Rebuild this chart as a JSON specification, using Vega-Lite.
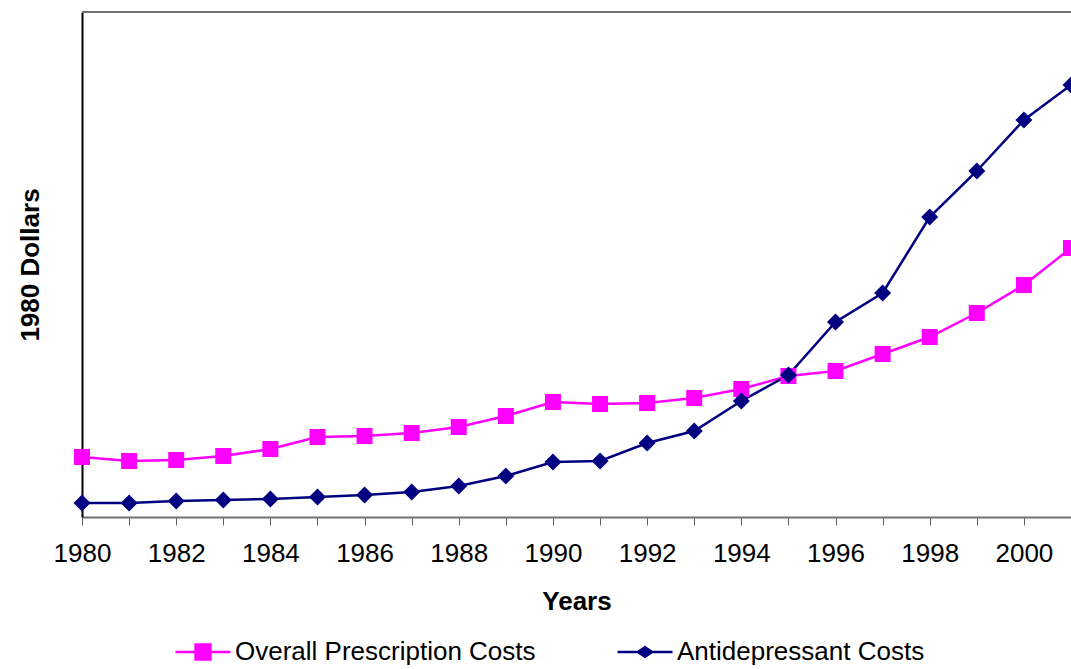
{
  "$schema": "https://vega.github.io/schema/vega-lite/v6.json",
  "width": 989,
  "height": 505,
  "autosize": "none",
  "padding": {"left": 82, "top": 12, "right": 0, "bottom": 152},
  "background": "white",
  "config": {
    "view": {"stroke": null},
    "font": "Liberation Sans"
  },
  "data": {
    "values": [
      {"year": 1980, "series": "Overall Prescription Costs", "value": 60},
      {"year": 1981, "series": "Overall Prescription Costs", "value": 56},
      {"year": 1982, "series": "Overall Prescription Costs", "value": 57},
      {"year": 1983, "series": "Overall Prescription Costs", "value": 61},
      {"year": 1984, "series": "Overall Prescription Costs", "value": 68},
      {"year": 1985, "series": "Overall Prescription Costs", "value": 80},
      {"year": 1986, "series": "Overall Prescription Costs", "value": 81},
      {"year": 1987, "series": "Overall Prescription Costs", "value": 84},
      {"year": 1988, "series": "Overall Prescription Costs", "value": 90},
      {"year": 1989, "series": "Overall Prescription Costs", "value": 101},
      {"year": 1990, "series": "Overall Prescription Costs", "value": 115},
      {"year": 1991, "series": "Overall Prescription Costs", "value": 113},
      {"year": 1992, "series": "Overall Prescription Costs", "value": 114},
      {"year": 1993, "series": "Overall Prescription Costs", "value": 119},
      {"year": 1994, "series": "Overall Prescription Costs", "value": 128},
      {"year": 1995, "series": "Overall Prescription Costs", "value": 141},
      {"year": 1996, "series": "Overall Prescription Costs", "value": 146},
      {"year": 1997, "series": "Overall Prescription Costs", "value": 163},
      {"year": 1998, "series": "Overall Prescription Costs", "value": 180},
      {"year": 1999, "series": "Overall Prescription Costs", "value": 204},
      {"year": 2000, "series": "Overall Prescription Costs", "value": 232},
      {"year": 2001, "series": "Overall Prescription Costs", "value": 269},
      {"year": 1980, "series": "Antidepressant Costs", "value": 14},
      {"year": 1981, "series": "Antidepressant Costs", "value": 14},
      {"year": 1982, "series": "Antidepressant Costs", "value": 16},
      {"year": 1983, "series": "Antidepressant Costs", "value": 17},
      {"year": 1984, "series": "Antidepressant Costs", "value": 18},
      {"year": 1985, "series": "Antidepressant Costs", "value": 20},
      {"year": 1986, "series": "Antidepressant Costs", "value": 22},
      {"year": 1987, "series": "Antidepressant Costs", "value": 25},
      {"year": 1988, "series": "Antidepressant Costs", "value": 31},
      {"year": 1989, "series": "Antidepressant Costs", "value": 41},
      {"year": 1990, "series": "Antidepressant Costs", "value": 55},
      {"year": 1991, "series": "Antidepressant Costs", "value": 56},
      {"year": 1992, "series": "Antidepressant Costs", "value": 74},
      {"year": 1993, "series": "Antidepressant Costs", "value": 86},
      {"year": 1994, "series": "Antidepressant Costs", "value": 116},
      {"year": 1995, "series": "Antidepressant Costs", "value": 142},
      {"year": 1996, "series": "Antidepressant Costs", "value": 195},
      {"year": 1997, "series": "Antidepressant Costs", "value": 224},
      {"year": 1998, "series": "Antidepressant Costs", "value": 300},
      {"year": 1999, "series": "Antidepressant Costs", "value": 346},
      {"year": 2000, "series": "Antidepressant Costs", "value": 397},
      {"year": 2001, "series": "Antidepressant Costs", "value": 432}
    ]
  },
  "encoding": {
    "x": {
      "field": "year",
      "type": "quantitative",
      "scale": {"domain": [1980, 2001], "nice": false, "zero": false},
      "axis": {
        "title": "Years",
        "titleFont": "Liberation Sans",
        "titleFontSize": 26,
        "titleFontWeight": "bold",
        "titleColor": "black",
        "titlePadding": 22,
        "values": [1980,1981,1982,1983,1984,1985,1986,1987,1988,1989,1990,1991,1992,1993,1994,1995,1996,1997,1998,1999,2000,2001],
        "labelExpr": "datum.value % 2 == 0 ? format(datum.value, 'd') : ''",
        "labelFont": "Liberation Sans",
        "labelFontSize": 26,
        "labelColor": "black",
        "labelPadding": 15,
        "labelOverlap": false,
        "labelFlush": false,
        "tickSize": 8,
        "tickColor": "#606060",
        "tickWidth": 1,
        "domainColor": "#707070",
        "domainWidth": 2,
        "grid": false
      }
    },
    "y": {
      "field": "value",
      "type": "quantitative",
      "scale": {"domain": [0, 505], "nice": false},
      "axis": {
        "title": "1980 Dollars",
        "titleFont": "Liberation Sans",
        "titleFontSize": 26,
        "titleFontWeight": "bold",
        "titleColor": "black",
        "titlePadding": 39,
        "labels": false,
        "ticks": false,
        "domainColor": "black",
        "domainWidth": 2,
        "grid": false
      }
    },
    "color": {
      "field": "series",
      "type": "nominal",
      "sort": ["Overall Prescription Costs", "Antidepressant Costs"],
      "scale": {"domain": ["Overall Prescription Costs", "Antidepressant Costs"], "range": ["#FF00FF", "#000080"]},
      "legend": {
        "title": null,
        "orient": "none",
        "legendX": 92,
        "legendY": 611,
        "direction": "horizontal",
        "columns": 2,
        "columnPadding": 76,
        "labelFont": "Liberation Sans",
        "labelFontSize": 26,
        "labelColor": "black",
        "labelLimit": 0,
        "labelOffset": 3,
        "symbolSize": 3025,
        "symbolStrokeWidth": 2.5,
        "symbolOpacity": 1,
        "encode": {
          "symbols": {
            "update": {
              "shape": {"signal": "datum.value == 'Overall Prescription Costs' ? 'M-1,0H1M-0.27,-0.27H0.27V0.27H-0.27Z' : 'M-1,0H1M0,-0.17L0.26,0L0,0.17L-0.26,0Z'"},
              "fill": {"signal": "datum.value == 'Overall Prescription Costs' ? '#FF00FF' : '#000080'"},
              "stroke": {"signal": "datum.value == 'Overall Prescription Costs' ? '#FF00FF' : '#000080'"},
              "strokeWidth": {"value": 2.5},
              "opacity": {"value": 1},
              "fillOpacity": {"value": 1},
              "strokeOpacity": {"value": 1}
            }
          }
        }
      }
    }
  },
  "layer": [
    {
      "mark": {"type": "rule", "color": "#707070", "strokeWidth": 2},
      "encoding": {
        "x": {"datum": 1980, "type": "quantitative"},
        "x2": {"datum": 2001},
        "y": {"datum": 505, "type": "quantitative"},
        "color": {"value": "#707070"}
      }
    },
    {
      "mark": {"type": "line", "strokeWidth": 2.5, "clip": false}
    },
    {
      "transform": [{"filter": "datum.series == 'Overall Prescription Costs'"}],
      "mark": {"type": "point", "filled": true, "opacity": 1, "clip": false, "shape": "square", "size": 256}
    },
    {
      "transform": [{"filter": "datum.series == 'Antidepressant Costs'"}],
      "mark": {"type": "point", "filled": true, "opacity": 1, "clip": false, "shape": "diamond", "size": 289}
    }
  ]
}
